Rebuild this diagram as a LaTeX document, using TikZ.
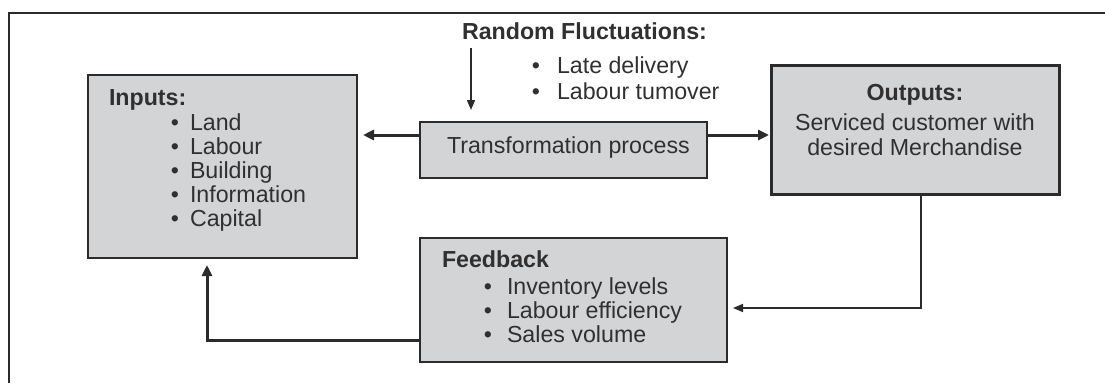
\documentclass[tikz,border=0pt]{standalone}
\usepackage{fontspec}
\setmainfont{Liberation Sans}
\usetikzlibrary{arrows.meta}
\definecolor{boxfill}{HTML}{D3D4D6}
\definecolor{ink}{HTML}{2B2B2B}
\definecolor{txt}{HTML}{303030}
\tikzset{
  panel/.style={draw=ink, fill=boxfill, line width=2.5pt, outer sep=0pt, inner sep=0pt},
  label/.style={inner sep=0pt, outer sep=0pt, anchor=base west, text=txt,
                font=\fontsize{23.2}{24}\selectfont},
  heading/.style={label, font=\fontsize{23.2}{24}\selectfont\bfseries},
  bulleted/.style={label, execute at begin node={\llap{\textbullet\hspace{#1}}}},
  bulleted/.default=11pt,
  thickarrow/.style={draw=ink, line width=3pt, -{Triangle[length=11pt,width=10pt]}},
  thinarrow/.style={draw=ink, line width=1.6pt, -{Triangle[length=10pt,width=8pt]}},
}
\begin{document}
\begin{tikzpicture}[x=1pt, y=-1pt]
  \useasboundingbox (0,0) rectangle (1105,383);

  % open frame: top and left edges only
  \draw[ink, line width=2pt] (8.5,383) -- (8.5,13) -- (1105,13);

  % boxes
  \node[panel, minimum width=269pt, minimum height=183pt] (inputs)   at (222.5,166.5) {};
  \node[panel, minimum width=287pt, minimum height=56pt]  (trans)    at (563.5,150)   {};
  \node[panel, line width=3pt, minimum width=288pt, minimum height=129pt] (outputs) at (915,129.5) {};
  \node[panel, minimum width=307pt, minimum height=124pt] (feedback) at (573.5,300)   {};

  % inputs
  \node[heading] (inhead) at (109,105) {Inputs:};
  \foreach \t [count=\i] in {Land,Labour,Building,Information,Capital}
    \node[bulleted] (in\i) at (190,{130+24.2*(\i-1)}) {\t};

  % transformation
  \node[label] (translabel) at (447,153) {Transformation process};

  % random fluctuations
  \node[heading] (rf) at (462,39) {Random Fluctuations:};
  \node[bulleted=17pt] (rf1) at (557,73) {Late delivery};
  \node[bulleted=17pt] (rf2) at (557,99) {Labour tumover};

  % outputs
  \node[heading, anchor=base] (outhead) at (915,100) {Outputs:};
  \node[label, anchor=base] (out1) at (915,130) {Serviced customer with};
  \node[label, anchor=base] (out2) at (915,155) {desired Merchandise};

  % feedback
  \node[heading] (fbhead) at (442,267) {Feedback};
  \foreach \t [count=\i] in {Inventory levels,Labour efficiency,Sales volume}
    \node[bulleted=15pt] (fb\i) at (507,{294+24*(\i-1)}) {\t};

  % connectors
  \coordinate (tl) at ([yshift=15pt]trans.west);
  \coordinate (tr) at ([yshift=15pt]trans.east);
  \draw[thickarrow, shorten >=6pt] (tl) -- (inputs.east |- tl);
  \draw[thickarrow, shorten >=2pt] (tr) -- (outputs.west |- tr);

  \coordinate (rfa) at (471,48);
  \draw[thinarrow, shorten >=12pt] (rfa) -- (trans.north -| rfa);

  \coordinate (od) at ([xshift=6pt]outputs.south);
  \coordinate (fr) at ([yshift=-8pt]feedback.east);
  \draw[thinarrow, shorten >=6pt] (od) |- (fr);

  \coordinate (fl) at ([yshift=-40pt]feedback.west);
  \coordinate (iu) at ([xshift=-15.5pt]inputs.south);
  \draw[thickarrow, shorten >=7pt] (fl) -| (iu);
\end{tikzpicture}
\end{document}
